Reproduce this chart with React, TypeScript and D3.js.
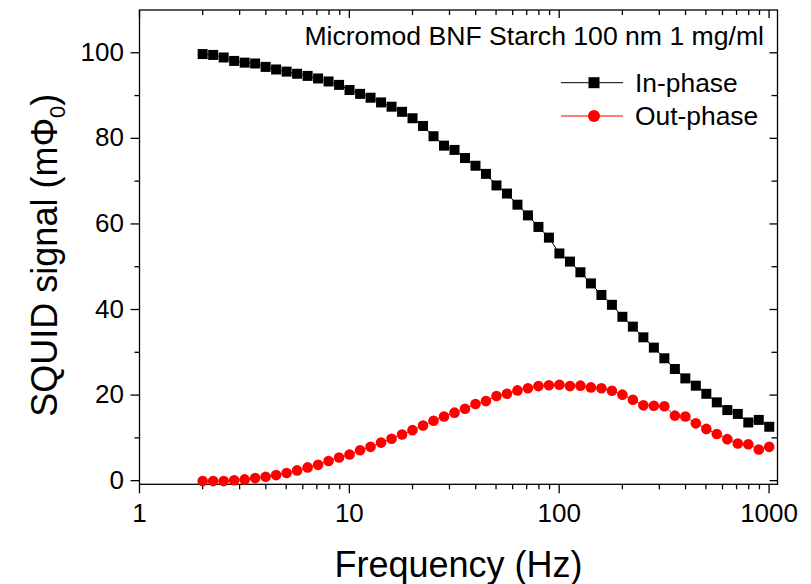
import React from 'react';
import * as d3 from 'd3';

const W = 811;
const H = 584;

// Frequencies (Hz), 20 points per decade from 2 Hz to ~1 kHz
const freqs = [
  2, 2.244, 2.518, 2.825, 3.17, 3.557, 3.991, 4.477, 5.024, 5.637, 6.325, 7.096, 7.962, 8.934,
  10.02, 11.25, 12.62, 14.16, 15.89, 17.83, 20.0, 22.44, 25.18, 28.25, 31.7, 35.57, 39.91, 44.77,
  50.24, 56.37, 63.25, 70.96, 79.62, 89.34, 100.2, 112.5, 126.2, 141.6, 158.9, 178.3, 200.0, 224.4,
  251.8, 282.5, 317.0, 355.7, 399.1, 447.7, 502.4, 563.7, 632.5, 709.6, 796.2, 893.4, 1002,
];

const inPhase = [
  99.7, 99.5, 98.9, 98.1, 97.7, 97.5, 96.7, 96.1, 95.6, 95.1, 94.6, 94.0, 93.3, 92.5,
  91.3, 90.4, 89.5, 88.4, 87.4, 86.2, 84.7, 82.9, 80.5, 78.3, 77.3, 75.4, 73.6, 71.7,
  69.0, 67.1, 64.5, 62.0, 59.3, 56.8, 53.1, 51.2, 48.7, 46.1, 43.4, 41.1, 38.3, 36.0,
  33.5, 31.1, 28.6, 26.1, 23.9, 22.2, 20.3, 18.3, 16.5, 15.6, 13.6, 14.2, 12.6,
];

const outPhase = [
  -0.1, -0.1, -0.1, 0.1, 0.3, 0.6, 0.9, 1.3, 1.8, 2.4, 3.1, 3.7, 4.6, 5.4,
  6.1, 7.1, 7.9, 8.9, 9.8, 10.8, 11.8, 12.9, 14.0, 15.0, 15.9, 16.8, 17.9, 18.6,
  19.8, 20.3, 21.1, 21.6, 22.1, 22.3, 22.4, 22.1, 22.2, 21.8, 21.6, 21.0, 20.1, 18.9,
  17.6, 17.5, 17.4, 15.2, 15.0, 13.4, 12.1, 10.9, 9.7, 8.7, 8.5, 7.3, 7.9,
];

const xMajorTicks = [1, 10, 100, 1000];
const yMajorTicks = [0, 20, 40, 60, 80, 100];
const yMinorTicks = [10, 30, 50, 70, 90];

const titleText = 'Micromod BNF Starch 100 nm 1 mg/ml';
const seriesNames = ['In-phase', 'Out-phase'];

const FONT = "'Liberation Sans', Arial, Helvetica, sans-serif";

export default function App() {
  const x = d3.scaleLog().domain([1, 1097]).range([139.5, 777.5]);
  const y = d3.scaleLinear().domain([-0.85, 110]).range([484.3, 10]);
  const [x0, x1] = x.range();
  const [yb, yt] = y.range();

  const xMinor = x.ticks().filter((t) => !xMajorTicks.includes(t) && t < 1097);

  const lineIn = d3
    .line<number>()
    .x((_, i) => x(freqs[i]))
    .y((d) => y(d));

  const axisColor = '#000';
  const aw = 1.3;

  return (
    <svg
      width={W}
      height={H}
      style={{ position: 'absolute', left: 0, top: 0, display: 'block', background: '#fff' }}
      fontFamily={FONT}
    >
      {/* frame */}
      <rect x={x0} y={yt} width={x1 - x0} height={yb - yt} fill="none" stroke={axisColor} strokeWidth={aw} />

      {/* bottom axis ticks (outward), top axis (inward) */}
      {xMajorTicks.map((t) => (
        <g key={'xb' + t}>
          <line x1={x(t)} x2={x(t)} y1={yb} y2={yb + 9} stroke={axisColor} strokeWidth={aw} />
          <line x1={x(t)} x2={x(t)} y1={yt} y2={yt + 8} stroke={axisColor} strokeWidth={aw} />
          <text x={x(t)} y={522} fontSize={26} textAnchor="middle" fill="#000">
            {t}
          </text>
        </g>
      ))}
      {xMinor.map((t) => (
        <g key={'xm' + t}>
          <line x1={x(t)} x2={x(t)} y1={yb} y2={yb + 5} stroke={axisColor} strokeWidth={aw} />
          <line x1={x(t)} x2={x(t)} y1={yt} y2={yt + 5} stroke={axisColor} strokeWidth={aw} />
        </g>
      ))}

      {/* left axis ticks (outward), right axis (inward) */}
      {yMajorTicks.map((t) => (
        <g key={'yl' + t}>
          <line x1={x0 - 9} x2={x0} y1={y(t)} y2={y(t)} stroke={axisColor} strokeWidth={aw} />
          <line x1={x1 - 8} x2={x1} y1={y(t)} y2={y(t)} stroke={axisColor} strokeWidth={aw} />
          <text x={124} y={y(t) + 8} fontSize={26} textAnchor="end" fill="#000">
            {t}
          </text>
        </g>
      ))}
      {yMinorTicks.map((t) => (
        <g key={'ym' + t}>
          <line x1={x0 - 5} x2={x0} y1={y(t)} y2={y(t)} stroke={axisColor} strokeWidth={aw} />
          <line x1={x1 - 6} x2={x1} y1={y(t)} y2={y(t)} stroke={axisColor} strokeWidth={aw} />
        </g>
      ))}

      {/* data lines */}
      <path d={lineIn(inPhase) || ''} fill="none" stroke="#000" strokeWidth={1} />
      <path d={lineIn(outPhase) || ''} fill="none" stroke="#ff0000" strokeWidth={1} />

      {/* markers */}
      {inPhase.map((v, i) => (
        <rect key={'s' + i} x={x(freqs[i]) - 5} y={y(v) - 5} width={10} height={10} fill="#000" />
      ))}
      {outPhase.map((v, i) => (
        <circle key={'c' + i} cx={x(freqs[i])} cy={y(v)} r={5.3} fill="#ff0000" />
      ))}

      {/* title inside plot */}
      <text x={764} y={45} fontSize={26.6} textAnchor="end" fill="#000">
        {titleText}
      </text>

      {/* legend */}
      <line x1={561} x2={623} y1={82.7} y2={82.7} stroke="#000" strokeWidth={1} />
      <rect x={594 - 5.5} y={82.7 - 5.5} width={11} height={11} fill="#000" />
      <text x={635} y={92} fontSize={26.4} fill="#000">
        {seriesNames[0]}
      </text>
      <line x1={561} x2={623} y1={116} y2={116} stroke="#ff0000" strokeWidth={1} />
      <circle cx={594} cy={116} r={6} fill="#ff0000" />
      <text x={635} y={125} fontSize={26.4} fill="#000">
        {seriesNames[1]}
      </text>

      {/* axis titles */}
      <text x={(x0 + x1) / 2} y={577} fontSize={36} textAnchor="middle" fill="#000">
        Frequency (Hz)
      </text>
      <text
        transform={`translate(57, ${(yb + yt) / 2 + 8}) rotate(-90)`}
        fontSize={36}
        textAnchor="middle"
        fill="#000"
      >
        SQUID signal (mΦ
        <tspan fontSize={22} dy={8}>0</tspan>
        <tspan dy={-8}>)</tspan>
      </text>
    </svg>
  );
}
